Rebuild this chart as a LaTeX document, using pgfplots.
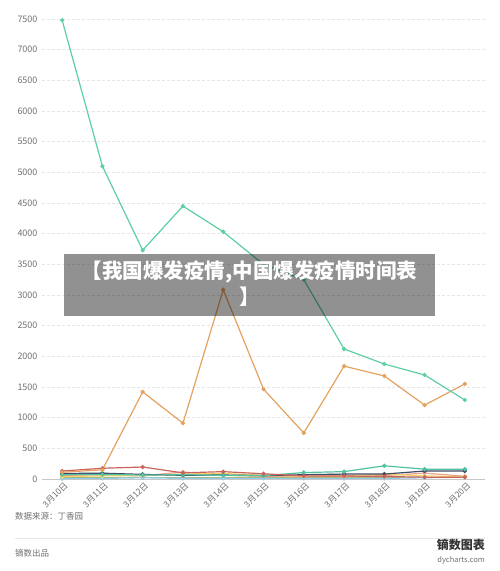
\documentclass[border=0pt]{standalone}
\usepackage{fontspec}
\setmainfont{Noto Sans CJK SC}
\usepackage{pgfplots}
\pgfplotsset{compat=1.18}
\definecolor{cgreen}{HTML}{5DCFA0}
\definecolor{corange}{HTML}{E3A25F}
\definecolor{cred}{HTML}{C9635C}
\definecolor{cteal}{HTML}{4FC3A0}
\definecolor{cnavy}{HTML}{3E4A66}
\definecolor{cyellow}{HTML}{F2D36B}
\definecolor{csalmon}{HTML}{EBA08E}
\definecolor{cblue}{HTML}{8FCBE8}
\definecolor{colive}{HTML}{A9B87A}
\definecolor{cgrid}{HTML}{E6E6E6}
\definecolor{ctext}{HTML}{707070}
\begin{document}
\begin{tikzpicture}
\path[use as bounding box] (0bp,0bp) rectangle (500bp,571bp);
\begin{axis}[
  at={(42bp,92bp)}, anchor=south west,
  scale only axis, width=443bp, height=460bp,
  xmin=-0.5, xmax=10.5, ymin=0, ymax=7500,
  clip=false,
  xtick={0,...,10},
  xticklabels={3月10日,3月11日,3月12日,3月13日,3月14日,3月15日,3月16日,3月17日,3月18日,3月19日,3月20日},
  ytick={0,500,...,7500},
  /pgf/number format/assume math mode=true,
  /pgf/number format/1000 sep={},
  yticklabel style={font=\fontsize{9bp}{10bp}\selectfont, text=ctext, xshift=-1bp},
  xticklabel style={font=\fontsize{8.5bp}{10bp}\selectfont, text=ctext, rotate=45, anchor=north east, inner sep=0.5bp, yshift=-2bp},
  major tick length=0pt,
  axis line style={draw=none},
  ymajorgrids,
  grid style={cgrid, dash pattern=on 2.5bp off 2.5bp, line width=0.6bp},
  every axis plot/.append style={line width=1.2bp, mark=*, mark size=1.5bp},
]
\draw[cgrid!70!gray, line width=0.8bp] (rel axis cs:0,0) -- (rel axis cs:1,0);
\addplot[colive, mark options={fill=colive}] coordinates {(0,30)(1,30)(2,30)(3,30)(4,30)(5,30)(6,30)(7,30)(8,30)(9,30)(10,30)};
\addplot[cblue, mark options={fill=white}] coordinates {(0,5)(1,10)(2,20)(3,10)(4,10)(5,10)(6,10)(7,10)(8,10)(9,20)(10,30)};
\addplot[csalmon, mark options={fill=white}] coordinates {(0,60)(1,65)(2,50)(3,115)(4,60)(5,45)(6,40)(7,40)(8,55)(9,95)(10,45)};
\addplot[cyellow] coordinates {(0,40)(1,50)(2,60)(3,80)(4,90)(5,60)(6,45)(7,50)(8,80)(9,50)(10,40)};
\addplot[cnavy] coordinates {(0,90)(1,95)(2,75)(3,60)(4,65)(5,55)(6,70)(7,80)(8,80)(9,130)(10,130)};
\addplot[cteal] coordinates {(0,70)(1,75)(2,65)(3,70)(4,60)(5,55)(6,105)(7,120)(8,215)(9,160)(10,160)};
\addplot[cred] coordinates {(0,130)(1,175)(2,195)(3,100)(4,120)(5,85)(6,50)(7,50)(8,40)(9,30)(10,30)};
\addplot[corange] coordinates {(0,110)(1,150)(2,1420)(3,910)(4,3085)(5,1465)(6,750)(7,1840)(8,1680)(9,1205)(10,1550)};
\addplot[cgreen] coordinates {(0,7480)(1,5100)(2,3730)(3,4450)(4,4030)(5,3500)(6,3250)(7,2120)(8,1875)(9,1696)(10,1288)};
\end{axis}
% banner overlay
\fill[black, opacity=0.43] (64bp,255bp) rectangle (435bp,317bp);
\node[text=white, align=center, font=\fontsize{20.5bp}{26bp}\selectfont\bfseries] at (249.5bp,287bp) {【我国爆发疫情,中国爆发疫情时间表\\】};
% footer
\node[anchor=west, inner sep=0pt, text=ctext, font=\fontsize{8.5bp}{10bp}\selectfont] at (15bp,55bp) {数据来源：丁香园};
\draw[cgrid, line width=0.8bp] (15bp,33bp) -- (485bp,33bp);
\node[anchor=west, inner sep=0pt, text=ctext, font=\fontsize{8.5bp}{10bp}\selectfont] at (15bp,18bp) {镝数出品};
\node[anchor=east, inner sep=0pt, text=black!80, font=\fontsize{12bp}{14bp}\selectfont\bfseries] at (485bp,26bp) {镝数图表};
\node[anchor=east, inner sep=0pt, text=ctext, font=\fontsize{7.5bp}{9bp}\selectfont] at (485bp,11bp) {dycharts.com};
\end{tikzpicture}
\end{document}
